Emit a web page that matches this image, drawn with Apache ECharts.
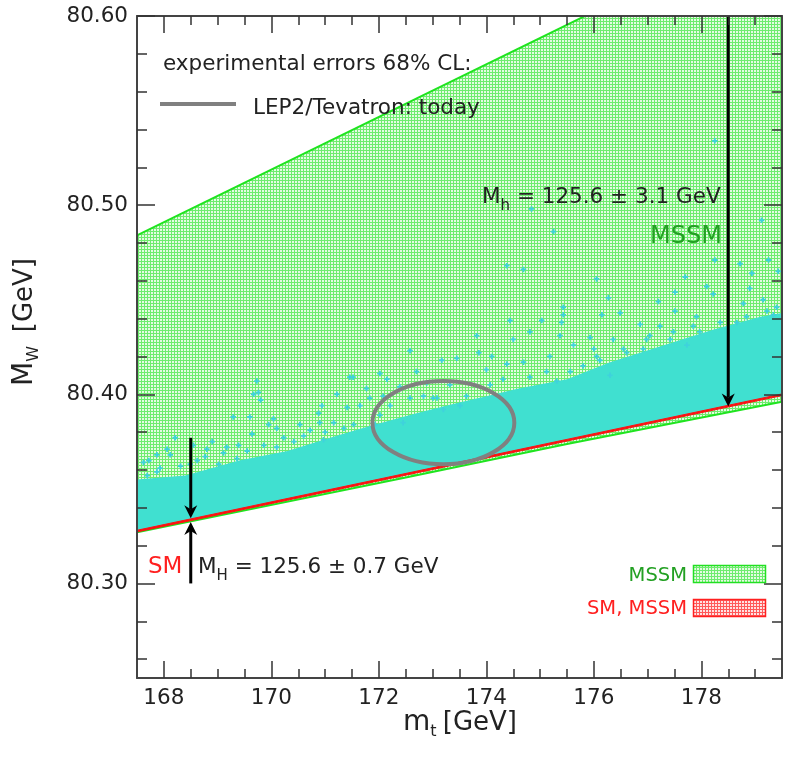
<!DOCTYPE html>
<html><head><meta charset="utf-8">
<script src="https://cdn.jsdelivr.net/npm/echarts@6/dist/echarts.min.js"></script>
<style>html,body{margin:0;padding:0;background:#fff}#chart{width:794px;height:758px}</style>
</head><body><div id="chart"></div>
<script>
// ---------------- data ----------------
const xRange = [167.5, 179.5];
const yRange = [80.25, 80.60];
const xMajorTicks = [168, 170, 172, 174, 176, 178];
const xMinorTicks = [168,168.5,169,169.5,170,170.5,171,171.5,172,172.5,173,173.5,174,174.5,175,175.5,176,176.5,177,177.5,178,178.5,179];
const yMajorTicks = [80.30, 80.40, 80.50, 80.60];
const yMinorTicks = [80.26,80.28,80.30,80.32,80.34,80.36,80.38,80.40,80.42,80.44,80.46,80.48,80.50,80.52,80.54,80.56,80.58];

// MSSM allowed region (green)
const mssmUpperMt = [167.5, 179.5];
const mssmUpperMw = [80.484, 80.651];
const mssmLowerMt = [167.5, 172.5, 175.5, 179.5];
const mssmLowerMw = [80.3270, 80.3560, 80.3737, 80.3960];

// SM band (red)
const smMt = [167.5, 179.5];
const smMwHigh = [80.3281, 80.4002];
const smMwLow = [80.3272, 80.3993];

// MSSM points with Mh = 125.6 +- 3.1 GeV: dense part upper edge
const denseMt = [167.5, 168.4, 169.4, 170.3, 171.2, 171.8, 172.7, 173.4, 174.0, 174.6, 175.5, 176.3, 177.2, 178.2, 179.1, 179.5];
const denseMw = [80.355, 80.357, 80.365, 80.370, 80.378, 80.383, 80.390, 80.395, 80.399, 80.403, 80.408, 80.417, 80.425, 80.434, 80.441, 80.443];

// MSSM points with Mh = 125.6 +- 3.1 GeV: scattered points above the dense part
const scatterMt = [169.73,169.76,169.80,171.46,172.02,171.22,169.29,169.60,170.04,168.55,168.80,167.62,167.87,170.53,170.90,171.65,169.67,171.41,170.94,170.88,
  168.21,168.06,168.12,168.90,168.77,169.17,169.39,169.64,170.10,170.23,169.95,167.72,167.87,168.49,169.02,169.36,170.42,170.72,171.00,171.16,
  172.58,173.17,173.45,173.82,174.50,174.81,175.03,174.44,173.86,174.10,172.70,172.89,173.32,174.00,174.38,174.69,175.18,175.37,175.43,171.52,
  172.15,172.39,172.58,172.83,173.01,172.21,172.02,173.20,173.51,171.93,172.45,171.77,171.83,
  178.25,176.05,176.27,177.70,178.10,178.22,177.20,177.51,178.72,178.94,179.25,179.43,178.90,175.43,175.40,176.49,176.86,176.15,177.51,177.91,
  177.23,178.78,179.15,175.93,175.62,176.36,177.04,175.80,175.56,176.61,177.42,177.97,178.66,179.34,176.00,176.92,177.73,176.30,176.11,
  178.25,179.12,174.84,175.25,174.38,174.69,
  167.69,167.93,168.31,168.62,169.11,169.55,169.86,170.10,170.60,170.97,171.35,171.53,
  172.08,173.08,173.63,174.07,174.31,174.81,175.12,175.31,
  176.05,176.55,176.98,177.48,177.85,178.35,178.84,179.22,179.40];
const scatterMw = [80.407,80.401,80.397,80.409,80.411,80.400,80.388,80.388,80.387,80.373,80.371,80.364,80.368,80.384,80.385,80.394,80.400,80.393,80.394,80.390,
  80.377,80.371,80.368,80.375,80.367,80.372,80.373,80.379,80.382,80.377,80.384,80.365,80.359,80.363,80.363,80.366,80.375,80.381,80.380,80.385,
  80.423,80.418,80.419,80.431,80.429,80.433,80.439,80.439,80.422,80.420,80.412,80.406,80.405,80.413,80.416,80.417,80.420,80.431,80.442,80.409,
  80.408,80.404,80.398,80.399,80.398,80.394,80.389,80.392,80.394,80.384,80.385,80.403,80.398,
  80.471,80.461,80.451,80.462,80.457,80.453,80.449,80.454,80.469,80.464,80.471,80.465,80.456,80.446,80.438,80.443,80.437,80.442,80.444,80.441,
  80.436,80.448,80.450,80.430,80.426,80.429,80.431,80.415,80.412,80.422,80.429,80.433,80.438,80.442,80.424,80.424,80.426,80.410,80.418,
  80.534,80.492,80.498,80.486,80.468,80.466,
  80.357,80.361,80.362,80.365,80.369,80.370,80.373,80.372,80.378,80.376,80.382,80.384,
  80.399,80.398,80.399,80.405,80.408,80.409,80.412,80.407,
  80.420,80.424,80.429,80.433,80.436,80.438,80.441,80.444,80.446];

// LEP2/Tevatron 68% CL ellipse
const ellipseCenter = [173.2, 80.385];
const ellipseSemiAxes = [1.32, 0.022];

// arrows
const arrowMt = [178.5, 168.5, 168.5];
const arrowFromMw = [80.600, 80.377, 80.300];
const arrowToMw = [80.3935, 80.3345, 80.3325];

// ---------------- helpers ----------------
const FONT = '"DejaVu Sans"';
function makePattern(line, bg) {
  const c = document.createElement('canvas'); c.width = 3; c.height = 3;
  const g = c.getContext('2d');
  g.fillStyle = bg; g.fillRect(0, 0, 3, 3);
  g.fillStyle = line; g.fillRect(0, 0, 3, 1); g.fillRect(0, 0, 1, 3);
  return c;
}
const greenPattern = {image: makePattern('#6eec6e', '#e4fbe2'), repeat: 'repeat'};
const redPattern = {image: makePattern('#ff5a5a', '#ffe2e2'), repeat: 'repeat'};

const mctx = document.createElement('canvas').getContext('2d');
function tw(t, s) { mctx.font = s + 'px ' + FONT; return mctx.measureText(t).width; }
function txt(t, x, y, s, color, align) {
  return {type: 'text', x: x, y: y, z: 100, silent: true,
    style: {text: t, fill: color, font: s + 'px ' + FONT, textAlign: align || 'left', textVerticalAlign: 'middle', align: align || 'left', verticalAlign: 'middle'}};
}
// parts: [text, size, dy]
function pieces(parts, x0, y, color, alignRight) {
  let total = 0; parts.forEach(p => total += tw(p[0], p[1]));
  let x = alignRight ? x0 - total : x0;
  const out = [];
  parts.forEach(p => { out.push(txt(p[0], x, y + (p[2] || 0), p[1], color)); x += tw(p[0], p[1]); });
  return out;
}
function pts(xs, ys) { return xs.map((x, i) => [x, ys[i]]); }

function polySeries(name, getPts, style, z) {
  return {type: 'custom', name: name, xAxisIndex: 0, yAxisIndex: 0, clip: true, silent: true, z: z,
    data: [[xRange[0], yRange[0]]],
    renderItem: function (params, api) {
      return {type: 'polygon', shape: {points: getPts().map(p => api.coord(p))}, style: style};
    }};
}

const axisCol = '#444';
function xAx(pos, ticks, len, labels, line) {
  return {type: 'value', min: xRange[0], max: xRange[1], position: pos, z: 10,
    axisLine: {show: line, onZero: false, lineStyle: {color: axisCol, width: 2}},
    axisTick: {show: true, inside: true, length: len, customValues: ticks, lineStyle: {color: '#333', width: 1.5}},
    axisLabel: labels ? {show: true, customValues: ticks, margin: 9, color: '#222', fontSize: 21.5, fontFamily: 'DejaVu Sans', formatter: v => String(Math.round(v))} : {show: false},
    splitLine: {show: false}};
}
function yAx(pos, ticks, len, labels, line) {
  return {type: 'value', min: yRange[0], max: yRange[1], position: pos, z: 10,
    axisLine: {show: line, onZero: false, lineStyle: {color: axisCol, width: 2}},
    axisTick: {show: true, inside: true, length: len, customValues: ticks, lineStyle: {color: '#333', width: 1.5}},
    axisLabel: labels ? {show: true, customValues: ticks, margin: 9, color: '#222', fontSize: 21.5, fontFamily: 'DejaVu Sans', formatter: v => v.toFixed(2)} : {show: false},
    splitLine: {show: false}};
}

// ---------------- chart ----------------
const chart = echarts.init(document.getElementById('chart'), null, {renderer: 'canvas'});

const graphics = [];
graphics.push(txt('experimental errors 68% CL:', 163, 64, 21.5, '#222'));
graphics.push({type: 'line', z: 100, silent: true, shape: {x1: 160, y1: 104, x2: 236, y2: 104}, style: {stroke: '#808080', lineWidth: 4}});
graphics.push(txt('LEP2/Tevatron: today', 253, 108, 21.5, '#222'));
graphics.push(...pieces([['M', 21.5, 0], ['h', 15, 9], [' = 125.6 \u00b1 3.1 GeV', 21.5, 0]], 482, 197, '#222', false));
graphics.push(txt('MSSM', 722, 237, 24, '#23a023', 'right'));
graphics.push(txt('SM', 148, 567, 23, '#ff1f1f'));
graphics.push(...pieces([['M', 21.5, 0], ['H', 15, 9], [' = 125.6 \u00b1 0.7 GeV', 21.5, 0]], 198, 567, '#222', false));
graphics.push(txt('MSSM', 687, 576, 19.5, '#23a023', 'right'));
graphics.push({type: 'rect', z: 100, silent: true, shape: {x: 693.5, y: 565.5, width: 72, height: 17}, style: {fill: greenPattern, stroke: '#22e022', lineWidth: 1.5}});
graphics.push(txt('SM, MSSM', 687, 609, 19.5, '#ff2020', 'right'));
graphics.push({type: 'rect', z: 100, silent: true, shape: {x: 693.5, y: 599.5, width: 72, height: 17}, style: {fill: redPattern, stroke: '#ff2020', lineWidth: 1.5}});
// x axis title
graphics.push(txt('m', 403, 723, 28, '#222'));
graphics.push(txt('t', 403 + tw('m', 28), 732, 16, '#222'));
graphics.push(txt('[GeV]', 517, 723, 26, '#222', 'right'));
// y axis title (rotated)
graphics.push({type: 'group', x: 25, y: 386, rotation: Math.PI / 2, z: 100, silent: true, children: [
  txt('M', 0, 0, 28, '#222'),
  txt('W', tw('M', 28), 9, 16, '#222'),
  txt('[GeV]', 128, 0, 26, '#222', 'right')
]});

const option = {
  animation: false,
  backgroundColor: '#fff',
  grid: {left: 137, top: 16, right: 12, bottom: 80, containLabel: false, outerBoundsMode: 'none'},
  xAxis: [xAx('bottom', xMajorTicks, 17, true, true), xAx('bottom', xMinorTicks, 9, false, false),
          xAx('top', xMajorTicks, 17, false, true), xAx('top', xMinorTicks, 9, false, false)],
  yAxis: [yAx('left', yMajorTicks, 18, true, true), yAx('left', yMinorTicks, 10, false, false),
          yAx('right', yMajorTicks, 18, false, true), yAx('right', yMinorTicks, 10, false, false)],
  series: [
    polySeries('MSSM', () => pts(mssmUpperMt, mssmUpperMw).concat(pts(mssmLowerMt, mssmLowerMw).reverse()), {fill: greenPattern}, 2),
    polySeries('MSSM Mh', () => pts(denseMt, denseMw).concat(pts(smMt, smMwLow).reverse()), {fill: '#40e0d0'}, 3),
    {type: 'scatter', name: 'MSSM Mh points', xAxisIndex: 0, yAxisIndex: 0, z: 4, silent: true,
      symbol: 'path://M1 0h1v1h1v1h-1v1h-1v-1h-1v-1h1z', symbolSize: 5.5,
      itemStyle: {color: '#3fd2dc', opacity: 1}, data: pts(scatterMt, scatterMw)},
    {type: 'line', name: 'MSSM upper', xAxisIndex: 0, yAxisIndex: 0, z: 5, silent: true, showSymbol: false, symbol: 'none',
      lineStyle: {color: '#1fe41f', width: 2}, data: pts(mssmUpperMt, mssmUpperMw)},
    {type: 'line', name: 'MSSM lower', xAxisIndex: 0, yAxisIndex: 0, z: 5, silent: true, showSymbol: false, symbol: 'none',
      lineStyle: {color: '#1fe41f', width: 2}, data: pts(mssmLowerMt, mssmLowerMw)},
    polySeries('SM', () => pts(smMt, smMwHigh).concat(pts(smMt, smMwLow).reverse()), {fill: '#ff1010', stroke: '#ff1010', lineWidth: 1}, 6),
    {type: 'custom', name: 'LEP2/Tevatron', xAxisIndex: 0, yAxisIndex: 0, z: 7, silent: true, clip: true,
      data: [ellipseCenter],
      renderItem: function (params, api) {
        const c = api.coord(ellipseCenter);
        const s = api.size(ellipseSemiAxes);
        return {type: 'ellipse', shape: {cx: c[0], cy: c[1], rx: s[0], ry: s[1]}, style: {fill: null, stroke: '#808080', lineWidth: 4}};
      }},
    {type: 'custom', name: 'arrows', xAxisIndex: 0, yAxisIndex: 0, z: 8, silent: true,
      data: arrowMt.map((m, i) => [m, arrowFromMw[i], arrowToMw[i]]),
      renderItem: function (params, api) {
        const x = api.value(0);
        const a = api.coord([x, api.value(1)]);
        const b = api.coord([x, api.value(2)]);
        const dir = b[1] > a[1] ? 1 : -1;
        const L = 13, W = 6.5, N = 9;
        return {type: 'group', children: [
          {type: 'line', shape: {x1: a[0], y1: a[1], x2: b[0], y2: b[1] - dir * N}, style: {stroke: '#000', lineWidth: 3}},
          {type: 'polygon', shape: {points: [[b[0], b[1]], [b[0] - W, b[1] - dir * L], [b[0], b[1] - dir * N], [b[0] + W, b[1] - dir * L]]}, style: {fill: '#000'}}
        ]};
      }}
  ],
  graphic: graphics
};
chart.setOption(option);
</script>
</body></html>
